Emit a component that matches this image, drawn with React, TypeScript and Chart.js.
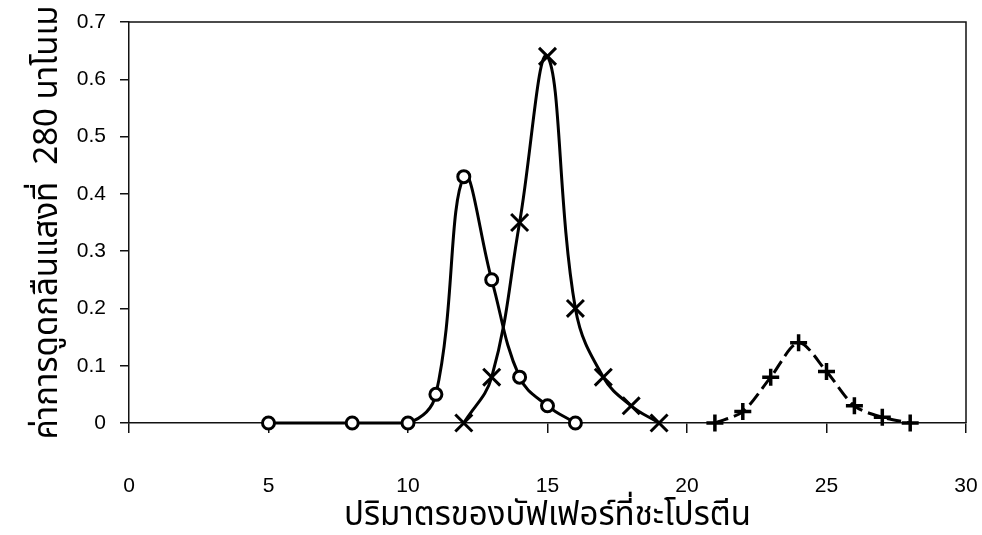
import React, { useEffect, useRef } from 'react';
import { Chart, registerables } from 'chart.js';

Chart.register(...registerables);

// Elution volumes (x) and absorbances (y) for the three peaks
const xCircle = [5, 8, 10, 11, 12, 13, 14, 15, 16];
const yCircle = [0, 0, 0, 0.05, 0.43, 0.25, 0.08, 0.03, 0];
const xCross = [12, 13, 14, 15, 16, 17, 18, 19];
const yCross = [0, 0.08, 0.35, 0.64, 0.2, 0.08, 0.03, 0];
const xPlus = [21, 22, 23, 24, 25, 26, 27, 28];
const yPlus = [0, 0.02, 0.08, 0.14, 0.09, 0.03, 0.01, 0];

const xTicks = [0, 5, 10, 15, 20, 25, 30];
const yTicks = [0, 0.1, 0.2, 0.3, 0.4, 0.5, 0.6, 0.7];
const yTickLabels = ['0', '0.1', '0.2', '0.3', '0.4', '0.5', '0.6', '0.7'];

const xTitle = 'ปริมาตรของบัฟเฟอร์ที่ชะโปรตีน';
const yTitle = 'ค่าการดูดกลืนแสงที่  280 นาโนเม';

const toPoints = (xs: number[], ys: number[]) => xs.map((x, i) => ({ x, y: ys[i] }));

const framePlugin = {
  id: 'frame',
  afterDatasetsDraw(chart: any) {
    const { ctx, chartArea } = chart;
    const { left, top, right, bottom } = chartArea;
    ctx.save();
    ctx.strokeStyle = '#111';
    ctx.lineWidth = 1.5;
    ctx.beginPath();
    ctx.moveTo(left, top);
    ctx.lineTo(right, top);
    ctx.lineTo(right, bottom);
    ctx.stroke();
    ctx.restore();
  },
};

const tickFont = { family: "'Liberation Sans', Arial, sans-serif", size: 21 };
const thaiFont = "'Noto Sans Thai', 'Noto Sans', 'DejaVu Sans', sans-serif";

export default function App() {
  const canvasRef = useRef<HTMLCanvasElement | null>(null);

  useEffect(() => {
    document.body.style.margin = '0';
    const canvas = canvasRef.current;
    if (!canvas) return;
    const chart = new Chart(canvas, {
      type: 'line',
      data: {
        datasets: [
          {
            data: toPoints(xCircle, yCircle),
            borderColor: '#000',
            borderWidth: 3,
            tension: 0.4,
            pointStyle: 'circle',
            pointRadius: 6,
            pointBorderWidth: 3,
            pointBorderColor: '#000',
            pointBackgroundColor: '#fff',
            clip: false,
          },
          {
            data: toPoints(xCross, yCross),
            borderColor: '#000',
            borderWidth: 3,
            tension: 0.4,
            pointStyle: 'crossRot',
            pointRadius: 12,
            pointBorderWidth: 3,
            pointBorderColor: '#000',
            pointBackgroundColor: '#000',
            clip: false,
          },
          {
            data: toPoints(xPlus, yPlus),
            borderColor: '#000',
            borderWidth: 3,
            tension: 0.3,
            borderDash: [14, 6],
            pointStyle: 'cross',
            pointRadius: 8.5,
            pointBorderWidth: 3.5,
            pointBorderColor: '#000',
            pointBackgroundColor: '#000',
            clip: false,
          },
        ] as any,
      },
      options: {
        animation: false,
        responsive: true,
        maintainAspectRatio: false,
        layout: { padding: { top: 22, right: 16, left: 0, bottom: 0 } },
        plugins: { legend: { display: false }, tooltip: { enabled: false } },
        scales: {
          x: {
            type: 'linear',
            min: 0,
            max: 30,
            afterBuildTicks: (s: any) => {
              s.ticks = xTicks.map((v) => ({ value: v }));
            },
            afterFit: (s: any) => {
              s.height = 112;
              s.paddingLeft = 0;
              s.paddingRight = 0;
            },
            ticks: { font: tickFont, color: '#000', padding: 41, maxRotation: 0 },
            grid: { drawOnChartArea: false, drawTicks: true, tickLength: 10, color: '#111', lineWidth: 1.5 },
            border: { display: true, color: '#111', width: 1.5 },
            title: {
              display: true,
              text: xTitle,
              color: '#000',
              font: { family: thaiFont, size: 33, lineHeight: 1.0 },
              padding: { top: 0, bottom: 0 },
            },
          },
          y: {
            type: 'linear',
            min: 0,
            max: 0.7,
            afterBuildTicks: (s: any) => {
              s.ticks = yTicks.map((v) => ({ value: v }));
            },
            afterFit: (s: any) => {
              s.width = 129;
              s.paddingTop = 0;
              s.paddingBottom = 0;
            },
            ticks: {
              font: tickFont,
              color: '#000',
              padding: 14,
              callback: (v: any) => {
                const i = yTicks.findIndex((t) => Math.abs(t - Number(v)) < 1e-9);
                return i >= 0 ? yTickLabels[i] : '';
              },
            },
            grid: { drawOnChartArea: false, drawTicks: true, tickLength: 9, color: '#111', lineWidth: 1.5 },
            border: { display: true, color: '#111', width: 1.5 },
            title: {
              display: true,
              text: yTitle,
              color: '#000',
              font: { family: thaiFont, size: 33, lineHeight: 1.0 },
              padding: { top: 34, bottom: 0 },
            },
          },
        },
      },
      plugins: [framePlugin],
    });
    return () => chart.destroy();
  }, []);

  return (
    <div style={{ position: 'relative', width: 982, height: 535 }}>
      <canvas ref={canvasRef} />
    </div>
  );
}
